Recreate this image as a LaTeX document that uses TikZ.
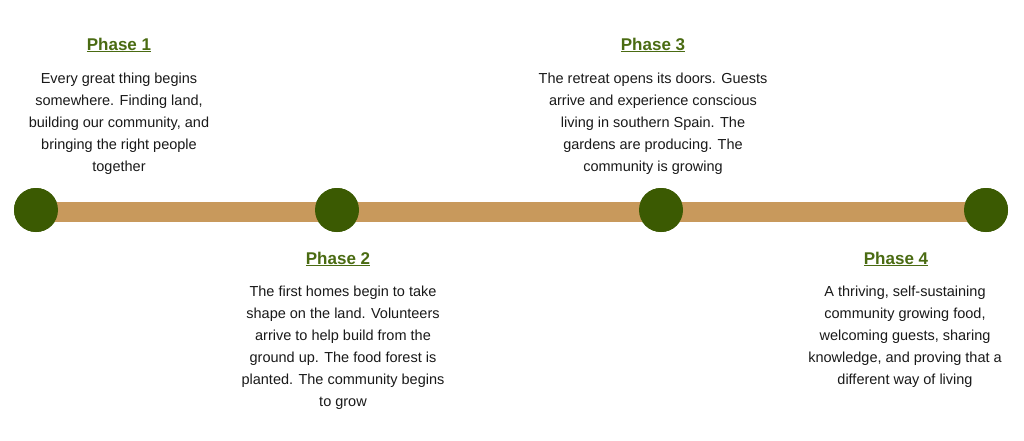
\documentclass[tikz,border=0pt]{standalone}
\usepackage{fontspec}
\setmainfont{Liberation Sans}
\definecolor{bar}{HTML}{C8995C}
\definecolor{dot}{HTML}{3B5A02}
\definecolor{head}{HTML}{4A6B12}
\begin{document}
\begin{tikzpicture}[x=1pt,y=-1pt,
  dotst/.style={circle,fill=dot,minimum size=44pt,inner sep=0pt},
  headst/.style={font=\fontsize{17}{20}\selectfont\bfseries,text=head,inner sep=0pt},
  txt/.style={font=\fontsize{14.5}{22}\selectfont,align=center,inner sep=0pt,anchor=north,text=black!90}]
\useasboundingbox (0,0) rectangle (1024,441);
\node[dotst] (d1) at (36,210) {};
\node[dotst] (d2) at (337,210) {};
\node[dotst] (d3) at (661,210) {};
\node[dotst] (d4) at (986,210) {};
\begin{scope}[on background layer/.style={}]
\end{scope}
\fill[bar] (36,202) rectangle (986,222);
\node[dotst] at (d1) {};\node[dotst] at (d2) {};\node[dotst] at (d3) {};\node[dotst] at (d4) {};
\node[headst] (h1) at (119,45) {\underline{Phase 1}};
\node[headst] (h2) at (338,259) {\underline{Phase 2}};
\node[headst] (h3) at (653,45) {\underline{Phase 3}};
\node[headst] (h4) at (896,259) {\underline{Phase 4}};
\node[txt] (t1) at (119,73) {Every great thing begins\\somewhere. Finding land,\\building our community, and\\bringing the right people\\together};
\node[txt] (t2) at (343,286) {The first homes begin to take\\shape on the land. Volunteers\\arrive to help build from the\\ground up. The food forest is\\planted. The community begins\\to grow};
\node[txt] (t3) at (653,73) {The retreat opens its doors. Guests\\arrive and experience conscious\\living in southern Spain. The\\gardens are producing. The\\community is growing};
\node[txt] (t4) at (905,286) {A thriving, self-sustaining\\community growing food,\\welcoming guests, sharing\\knowledge, and proving that a\\different way of living};
\end{tikzpicture}
\end{document}
